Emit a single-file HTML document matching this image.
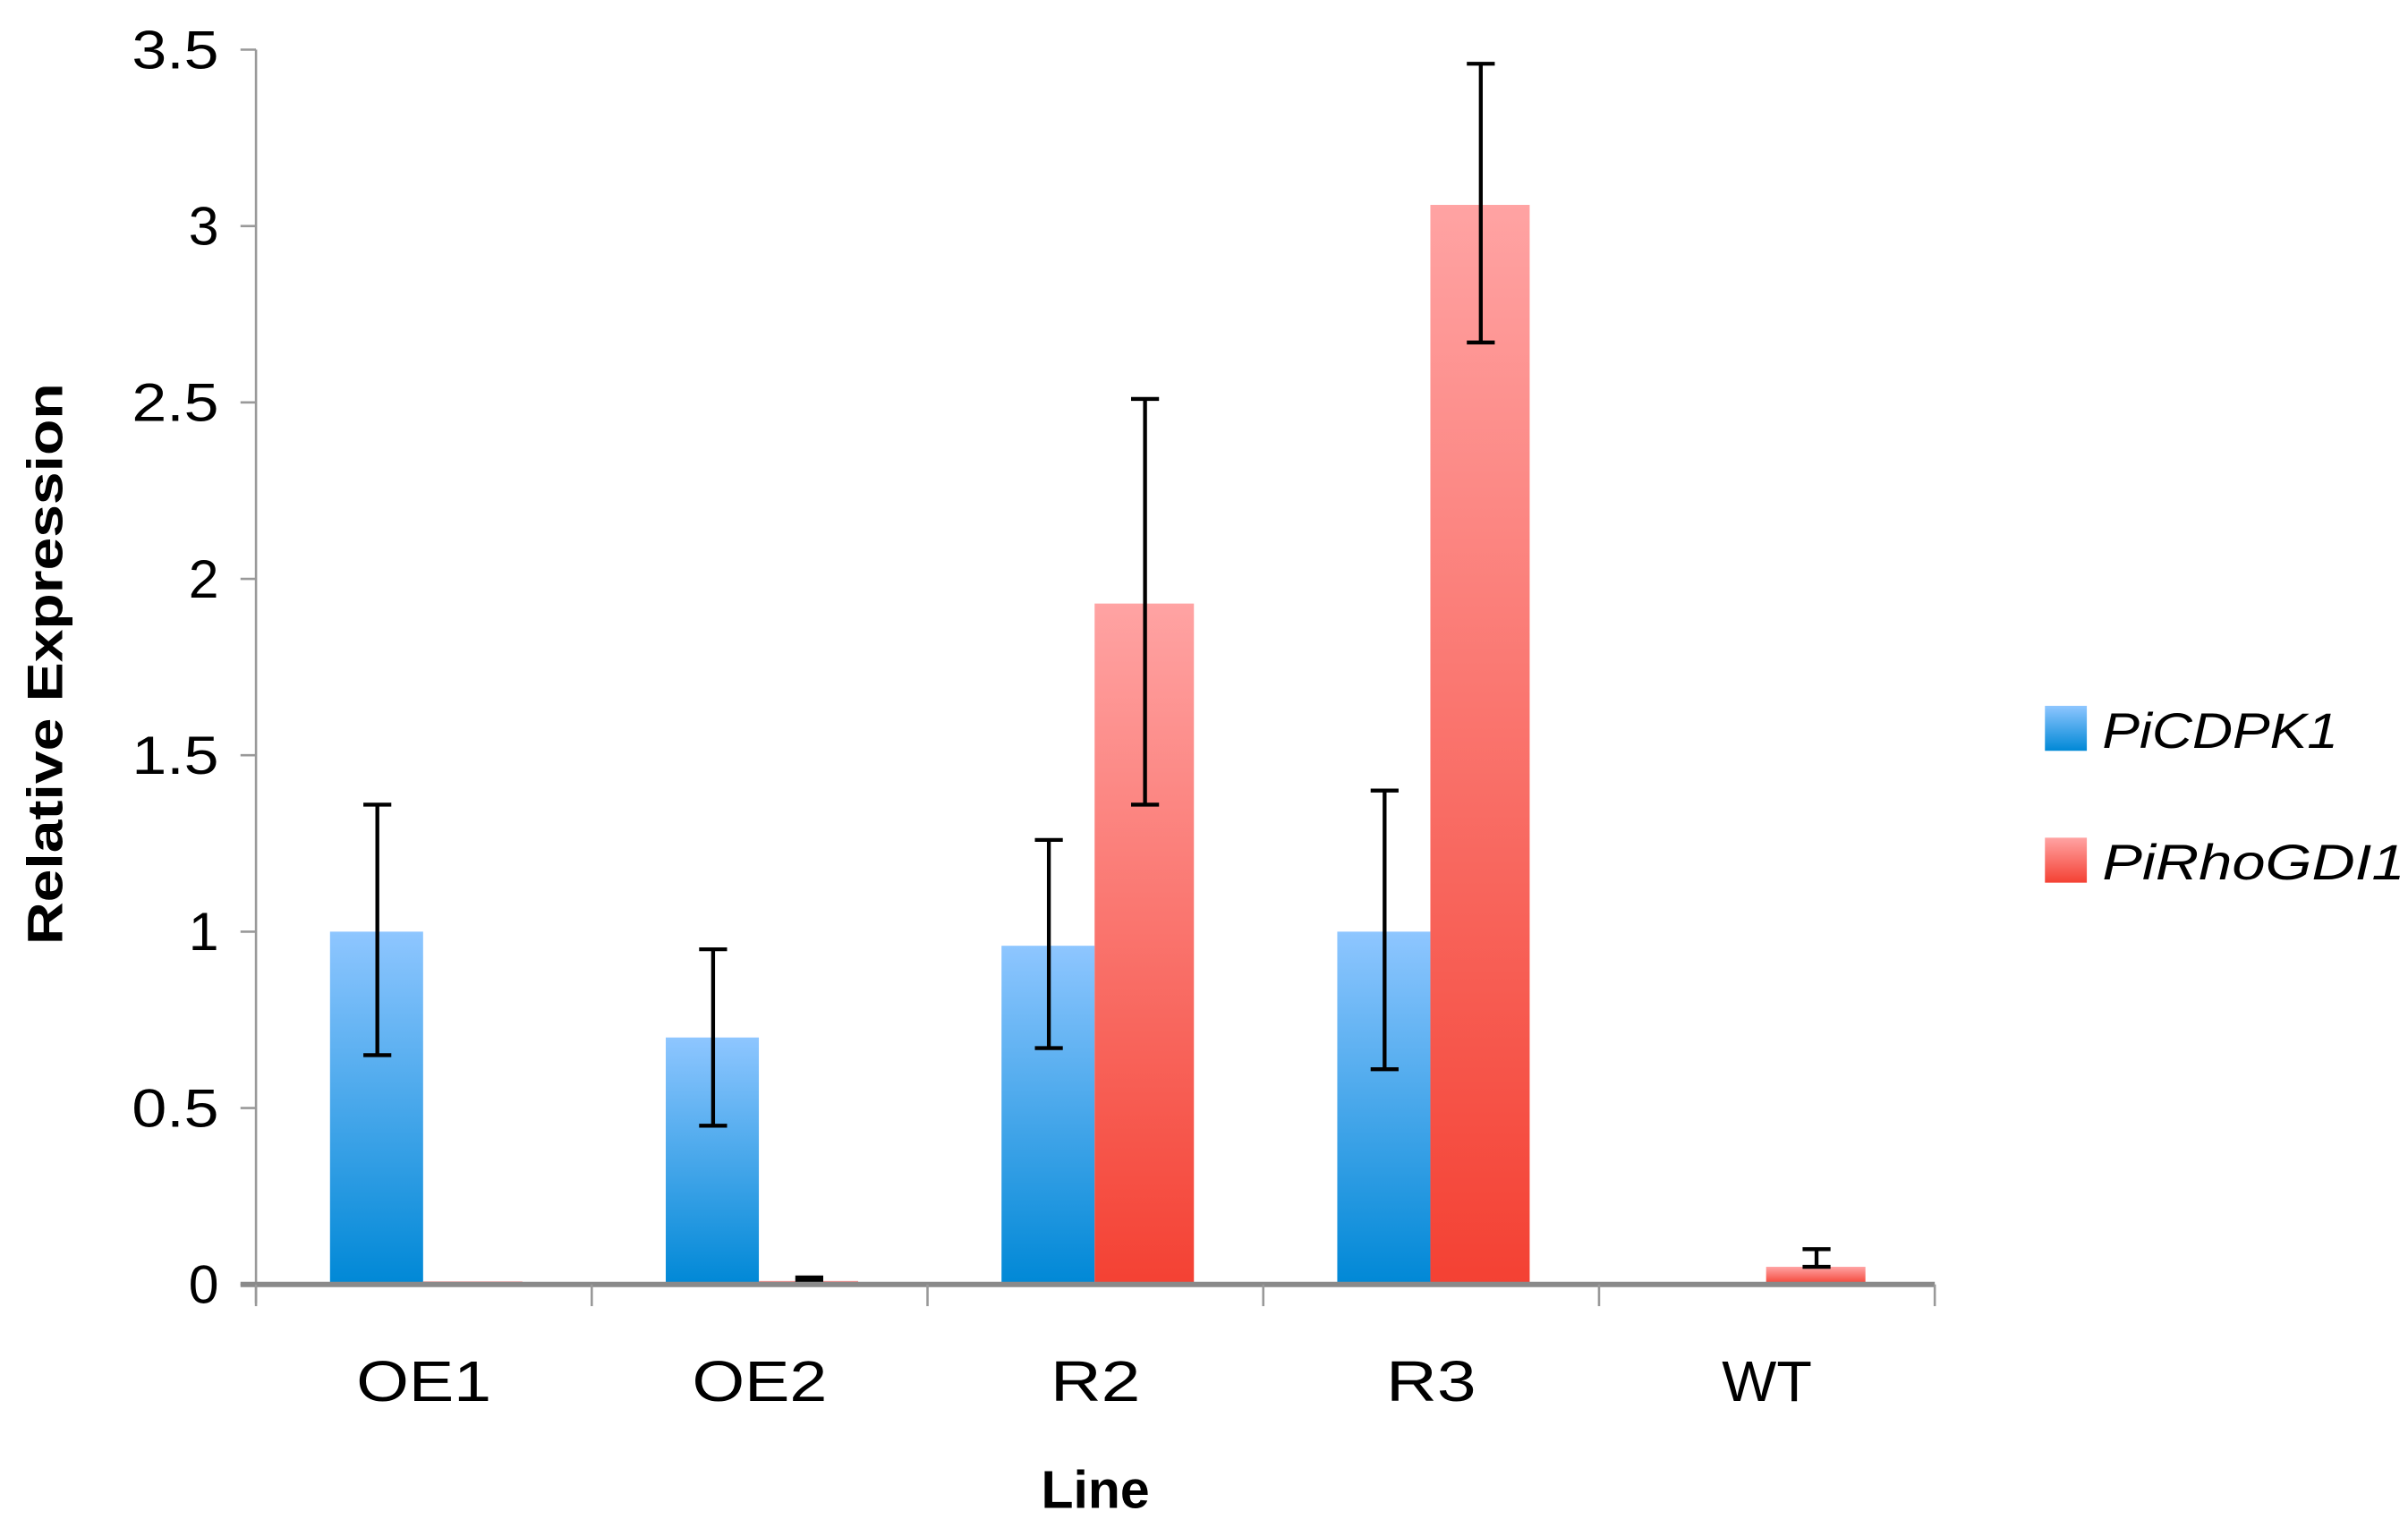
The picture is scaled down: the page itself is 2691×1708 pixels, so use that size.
<!DOCTYPE html>
<html><head><meta charset="utf-8"><style>
html,body{margin:0;padding:0;background:#fff;}
svg{display:block;}
text{font-family:"Liberation Sans",sans-serif;fill:#000;}
</style></head><body>
<svg id="chart" width="2691" height="1708" viewBox="0 0 1552 985" preserveAspectRatio="none" xmlns="http://www.w3.org/2000/svg">
<defs>
<linearGradient id="gBlue" x1="0" y1="0" x2="0" y2="1"><stop offset="0" stop-color="#8ec6ff"/><stop offset="1" stop-color="#0088d6"/></linearGradient>
<linearGradient id="gRed" x1="0" y1="0" x2="0" y2="1"><stop offset="0" stop-color="#ffa3a3"/><stop offset="1" stop-color="#f44133"/></linearGradient>
</defs>
<g id="plot"></g>
<text transform="translate(40,428) rotate(-90)" text-anchor="middle" font-size="32" font-weight="bold" textLength="362" lengthAdjust="spacingAndGlyphs">Relative Expression</text>
<text x="706" y="972" text-anchor="middle" font-size="34" font-weight="bold">Line</text>
<rect x="1318" y="455" width="27" height="29" fill="url(#gBlue)"/>
<text x="1355" y="482" font-size="32" font-style="italic" textLength="152" lengthAdjust="spacingAndGlyphs">PiCDPK1</text>
<rect x="1318" y="540" width="27" height="29" fill="url(#gRed)"/>
<text x="1355" y="567" font-size="32" font-style="italic" textLength="195" lengthAdjust="spacingAndGlyphs">PiRhoGDI1</text>
</svg>
<script>
const categories = ["OE1","OE2","R2","R3","WT"];
const cdpkValues = [1.0, 0.70, 0.96, 1.0, 0];
const cdpkLow = [0.65, 0.45, 0.67, 0.61, null];
const cdpkHigh = [1.36, 0.95, 1.26, 1.40, null];
const rhoValues = [0.005, 0.01, 1.93, 3.06, 0.05];
const rhoLow = [null, 0.01, 1.36, 2.67, 0.05];
const rhoHigh = [null, 0.02, 2.51, 3.46, 0.10];
const yTicks = [0, 0.5, 1, 1.5, 2, 2.5, 3, 3.5];
const yTickLabels = ["0","0.5","1","1.5","2","2.5","3","3.5"];

const NS = "http://www.w3.org/2000/svg";
const plot = document.getElementById("plot");
const X0 = 165, X1 = 1247, Y0 = 828, YTOP = 32, YMAX = 3.5;
const band = (X1 - X0) / categories.length;
function yScale(v){ return Y0 - (v / YMAX) * (Y0 - YTOP); }
function xBand(i){ return X0 + i * band; }
function mk(tag, attrs){ const e = document.createElementNS(NS, tag); for (const k in attrs) e.setAttribute(k, attrs[k]); plot.appendChild(e); return e; }

let ya = mk("line", {x1:X0, y1:YTOP, x2:X0, y2:Y0+12, stroke:"#999", "stroke-width":1.5});


yTicks.forEach((t, i) => {
  const y = yScale(t);
  const tk = mk("line", {x1:X0-10, y1:y, x2:X0, y2:y, stroke:"#999", "stroke-width":1.5});
  
  
  const lbl = yTickLabels[i];
  const attrs = {x:141, y:y+12, "text-anchor":"end", "font-size":35};
  if (lbl.length === 3) { attrs.textLength = 56; attrs.lengthAdjust = "spacingAndGlyphs"; }
  const tx = mk("text", attrs);
  tx.textContent = lbl;
  
  
});

const bw = 60;
function errBar(cx, lo, hi, name){
  if (lo === null || hi === null) return;
  const g = mk("g", {});
  
  
  const parts = [[cx, yScale(lo), cx, yScale(hi)], [cx-9, yScale(hi), cx+9, yScale(hi)], [cx-9, yScale(lo), cx+9, yScale(lo)]];
  parts.forEach(p => { const l = document.createElementNS(NS, "line"); l.setAttribute("x1", p[0]); l.setAttribute("y1", p[1]); l.setAttribute("x2", p[2]); l.setAttribute("y2", p[3]); l.setAttribute("stroke", "#000"); l.setAttribute("stroke-width", 2.5); g.appendChild(l); });
}
categories.forEach((c, i) => {
  const center = xBand(i) + band / 2;
  if (cdpkValues[i] > 0) {
    const b = mk("rect", {x:center - bw - 0.5, y:yScale(cdpkValues[i]), width:bw, height:Y0 - yScale(cdpkValues[i]), fill:"url(#gBlue)"});
    
    
  }
  const h = Math.max(Y0 - yScale(rhoValues[i]), 2);
  const r = mk("rect", {x:center - 0.5, y:Y0 - h, width:bw + 4, height:h, fill:"url(#gRed)"});
  
  
  errBar(center - bw/2, cdpkLow[i], cdpkHigh[i], 'error-bar-picdpk1-' + c.toLowerCase());
  errBar(center + bw/2 + 2, rhoLow[i], rhoHigh[i], 'error-bar-pirhogdi1-' + c.toLowerCase());
  const lb = mk("text", {x:center, y:903, "text-anchor":"middle", "font-size":37, textLength: (c.length * 29), lengthAdjust:"spacingAndGlyphs"});
  lb.textContent = c;
  
  
});
let xa = mk("line", {x1:X0-10, y1:Y0, x2:X1, y2:Y0, stroke:"#8a8a8a", "stroke-width":3.5});


for (let i = 0; i <= categories.length; i++) {
  const t = mk("line", {x1:xBand(i), y1:Y0, x2:xBand(i), y2:Y0+14, stroke:"#999", "stroke-width":1.5});
  
  
}
</script>
</body></html>
